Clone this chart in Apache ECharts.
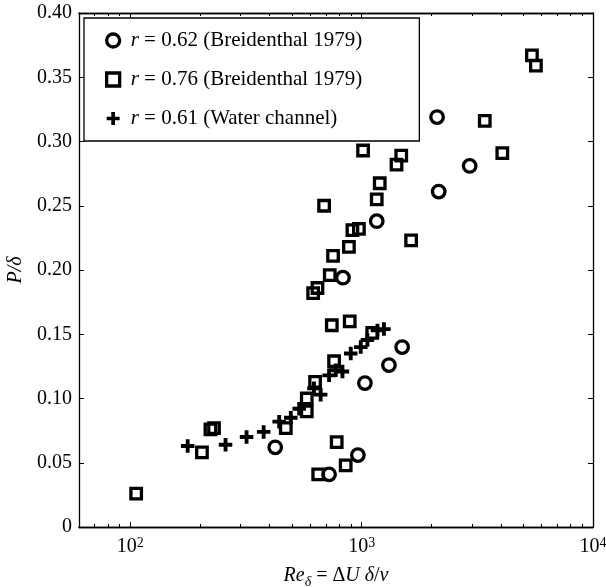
<!DOCTYPE html>
<html>
<head>
<meta charset="utf-8">
<script src="https://cdn.jsdelivr.net/npm/echarts@6/dist/echarts.min.js"></script>
<style>
  html, body { margin: 0; padding: 0; background: #fff; }
  #chart { width: 606px; height: 587px; }
</style>
</head>
<body>
<div id="chart"></div>
<script>
// Breidenthal (1979), r = 0.62
const reR062 = [423, 723, 963, 1033, 1312, 1496, 830, 1162, 2153, 2930, 2118];
const pR062 = [0.062, 0.041, 0.056, 0.112, 0.126, 0.140, 0.194, 0.238, 0.261, 0.281, 0.319];

// Breidenthal (1979), r = 0.76
const reR076 = [106, 204, 222, 230, 470, 579, 579, 629, 760, 1111, 743, 888, 649, 780, 853,
                617, 644, 728, 752, 881, 912, 973, 688, 1162, 1197, 1415, 1483, 1014, 1636,
                4055, 3405, 5445, 5665];
const pR076 = [0.026, 0.058, 0.076, 0.077, 0.077, 0.090, 0.100, 0.113, 0.129, 0.151, 0.157, 0.160,
               0.041, 0.066, 0.048, 0.182, 0.186, 0.196, 0.211, 0.218, 0.231, 0.232, 0.250, 0.255,
               0.2675, 0.282, 0.289, 0.293, 0.223, 0.291, 0.316, 0.367, 0.359];

// Water channel, r = 0.61
const reWater = [177, 258, 318, 377, 440, 494, 537, 622, 665, 723, 773, 826, 897, 991, 1059, 1170, 1248];
const pWater = [0.063, 0.064, 0.070, 0.074, 0.082, 0.085, 0.092, 0.108, 0.103, 0.118, 0.122, 0.121,
                0.135, 0.140, 0.1455, 0.153, 0.154];

const seriesNames = ['r = 0.62 (Breidenthal 1979)', 'r = 0.76 (Breidenthal 1979)', 'r = 0.61 (Water channel)'];

// Axis ticks
const xMin = 60, xMax = 10000;
const xMajor = [100, 1000, 10000];
const xMinor = [60, 70, 80, 90, 200, 300, 400, 500, 600, 700, 800, 900,
                2000, 3000, 4000, 5000, 6000, 7000, 8000, 9000];
const yMin = 0, yMax = 0.4, yStep = 0.05;

const FONT = 'Liberation Serif';
const BLACK = '#000';

function pairs(xs, ys) { return xs.map((x, i) => [x, ys[i]]); }

const plusPath = 'path://M5,0H9V5H14V9H9V14H5V9H0V5H5Z';
const squarePath = 'path://M0,0H10V10H0Z';

function xAxisDef(position, ticks, len, labels) {
  return {
    type: 'log', logBase: 10, min: xMin, max: xMax, position: position,
    axisLine: { show: true, lineStyle: { color: BLACK, width: 1.3 } },
    splitLine: { show: false },
    axisTick: { show: true, inside: true, length: len, customValues: ticks,
                lineStyle: { color: BLACK, width: 1 } },
    axisLabel: labels ? {
      show: true, customValues: xMajor, margin: 9,
      fontFamily: FONT, fontSize: 20, color: BLACK,
      formatter: v => '10{sup|' + Math.round(Math.log10(v)) + '}',
      rich: {
        sup: { fontFamily: FONT, fontSize: 14, color: BLACK, verticalAlign: 'top', lineHeight: 14 }
      },
      lineHeight: 22
    } : { show: false }
  };
}

function yAxisDef(position, labels) {
  return {
    type: 'value', min: yMin, max: yMax, interval: yStep, position: position,
    axisLine: { show: true, lineStyle: { color: BLACK, width: 1.3 } },
    splitLine: { show: false },
    axisTick: { show: true, inside: true, length: 5, lineStyle: { color: BLACK, width: 1 } },
    axisLabel: labels ? {
      show: true, margin: 7, fontFamily: FONT, fontSize: 20, color: BLACK,
      formatter: v => (Math.abs(v) < 1e-9 ? '0' : v.toFixed(2))
    } : { show: false }
  };
}

const xAxes = [
  xAxisDef('bottom', xMajor, 5, true),
  xAxisDef('bottom', xMinor, 3, false),
  xAxisDef('top', xMajor, 5, false),
  xAxisDef('top', xMinor, 3, false)
];
xAxes[0].name = '{i|Re}{s|δ} = Δ{i|U} {i|δ}/{i|ν}';
xAxes[0].nameLocation = 'middle';
xAxes[0].nameGap = 30;
xAxes[0].nameTextStyle = {
  fontFamily: FONT, fontSize: 20, color: BLACK, lineHeight: 26,
  rich: {
    i: { fontFamily: FONT, fontSize: 20, fontStyle: 'italic', color: BLACK, lineHeight: 26 },
    s: { fontFamily: FONT, fontSize: 14, fontStyle: 'italic', color: BLACK, verticalAlign: 'bottom', lineHeight: 12 }
  }
};

const yAxes = [yAxisDef('left', true), yAxisDef('right', false)];
yAxes[0].name = 'P/δ';
yAxes[0].nameLocation = 'middle';
yAxes[0].nameGap = 41;
yAxes[0].nameTextStyle = { fontFamily: FONT, fontSize: 20, fontStyle: 'italic', color: BLACK };

const hollow = { color: 'rgba(0,0,0,0)', borderColor: BLACK, borderWidth: 3.3, opacity: 1 };
const solid = { color: BLACK, borderWidth: 0, opacity: 1 };

const option = {
  animation: false,
  backgroundColor: '#fff',
  grid: { left: 79, right: 13, top: 13, bottom: 60, containLabel: false, outerBoundsMode: 'none' },
  xAxis: xAxes,
  yAxis: yAxes,
  legend: {
    orient: 'vertical', left: 84, top: 18,
    padding: [12, 57, 12, 21],
    itemGap: 18, itemWidth: 13, itemHeight: 13,
    borderColor: BLACK, borderWidth: 1.3, borderRadius: 0,
    backgroundColor: '#fff',
    selectedMode: false,
    data: [
      { name: seriesNames[0], icon: 'circle', itemStyle: hollow },
      { name: seriesNames[1], icon: squarePath, itemStyle: hollow },
      { name: seriesNames[2], icon: plusPath, itemStyle: solid }
    ],
    formatter: name => '{i|r}' + name.slice(1),
    textStyle: {
      fontFamily: FONT, fontSize: 21, color: BLACK, lineHeight: 20, padding: [0, 0, 0, 6],
      rich: { i: { fontFamily: FONT, fontSize: 21, fontStyle: 'italic', color: BLACK, lineHeight: 20 } }
    }
  },
  series: [
    {
      name: seriesNames[0], type: 'scatter', xAxisIndex: 0, yAxisIndex: 0,
      symbol: 'circle', symbolSize: 12.5, itemStyle: hollow,
      emphasis: { disabled: true }, data: pairs(reR062, pR062)
    },
    {
      name: seriesNames[1], type: 'scatter', xAxisIndex: 0, yAxisIndex: 0,
      symbol: 'rect', symbolSize: 10.5, itemStyle: hollow,
      emphasis: { disabled: true }, data: pairs(reR076, pR076)
    },
    {
      name: seriesNames[2], type: 'scatter', xAxisIndex: 0, yAxisIndex: 0,
      symbol: plusPath, symbolSize: 13.5, itemStyle: solid,
      emphasis: { disabled: true }, data: pairs(reWater, pWater)
    }
  ]
};

const chart = echarts.init(document.getElementById('chart'), null, { renderer: 'canvas' });
chart.setOption(option);
</script>
</body>
</html>
